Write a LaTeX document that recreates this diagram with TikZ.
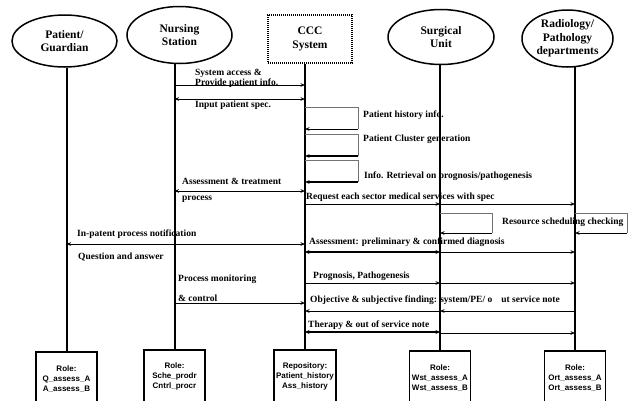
\documentclass[tikz,border=0pt]{standalone}
\usepackage{fontspec}
\setmainfont{Liberation Serif}
\newfontfamily\rolefont{Liberation Sans}
\usetikzlibrary{arrows.meta,shapes.geometric}
\begin{document}
\begin{tikzpicture}[x=1pt,y=-1pt,
  actor/.style={ellipse,draw,line width=1.5pt,inner sep=0pt,align=center,
    font=\fontsize{11.5}{13.5}\selectfont\bfseries},
  sysbox/.style={draw,line width=1.7pt,dash pattern=on 1.1pt off 0.9pt,inner sep=0pt,align=center,
    font=\fontsize{11.5}{13.5}\selectfont\bfseries},
  rolebox/.style={draw,line width=1.5pt,minimum width=61pt,minimum height=54pt,inner sep=0pt,
    anchor=north,align=center,font=\rolefont\fontsize{8}{10}\selectfont\bfseries},
  life/.style={line width=2pt},
  msg/.style={line width=0.9pt,-{Stealth[length=4.5pt,width=3.6pt]}},
  bimsg/.style={line width=0.9pt,{Stealth[length=4.5pt,width=3.6pt]}-{Stealth[length=4.5pt,width=3.6pt]}},
  thickmsg/.style={line width=1.8pt,{Stealth[length=4.5pt,width=4pt]}-{Stealth[length=4.5pt,width=4pt]}},
  loopedge/.style={line width=0.8pt,draw=black!55},
  lbl/.style={anchor=west,inner sep=0pt,font=\fontsize{9.5}{10}\selectfont\bfseries}
]
\useasboundingbox (0,0) rectangle (632,400);
\clip (0,0) rectangle (632,400);

% actors
\node[actor,minimum width=105pt,minimum height=52pt] (pat) at (64.5,41) {Patient/\\Guardian};
\node[actor,minimum width=105pt,minimum height=57pt] (nur) at (179.5,35) {Nursing\\Station};
\node[sysbox,minimum width=84pt,minimum height=48pt] (ccc) at (310,39) {CCC\\System};
\node[actor,minimum width=106pt,minimum height=55pt] (sur) at (441,37) {Surgical\\Unit};
\node[actor,minimum width=91pt,minimum height=57pt] (rad) at (567.5,38.5) {Radiology/\\Pathology\\departments};

% role / repository boxes
\node[rolebox] (pbox) at (66.5,351) {Role:\\Q\_assess\_A\\A\_assess\_B};
\node[rolebox] (nbox) at (174.5,349) {Role:\\Sche\_prodr\\Cntrl\_procr};
\node[rolebox,minimum width=62pt] (cbox) at (305,349) {Repository:\\Patient\_history\\Ass\_history};
\node[rolebox] (sbox) at (440,350) {Role:\\Wst\_assess\_A\\Wst\_assess\_B};
\node[rolebox] (rbox) at (575,350) {Role:\\Ort\_assess\_A\\Ort\_assess\_B};

% message labels
\node[lbl] (t1) at (195,73) {System access \&};
\node[lbl] (t2) at (195,83) {Provide patient info.};
\node[lbl] (t3) at (195,105) {Input patient spec.};
\node[lbl] (t4) at (363,115) {Patient history info.};
\node[lbl] (t5) at (363,139) {Patient Cluster generation};
\node[lbl] (t6) at (364,176) {Info. Retrieval on prognosis/pathogenesis};
\node[lbl] (t7) at (182,181) {Assessment \& treatment};
\node[lbl] (t8) at (182,199) {process};
\node[lbl] (t9) at (306,197) {Request each sector medical services with spec};
\node[lbl] (t10) at (502,222) {Resource scheduling checking};
\node[lbl] (t11) at (77,234) {In-patent process notification};
\node[lbl] (t12) at (309,242) {Assessment: preliminary \& confirmed diagnosis};
\node[lbl] (t13) at (78,257) {Question and answer};
\node[lbl] (t14) at (178,279) {Process monitoring};
\node[lbl] (t15) at (178,298) {\& control};
\node[lbl] (t16) at (313,276) {Prognosis, Pathogenesis};
\node[lbl] (t17) at (310,300) {Objective \& subjective finding: system/PE/ o\hspace{9pt}ut service note};
\node[lbl] (t18) at (308,325) {Therapy \& out of service note};

% lifelines
\draw[life] (pbox.north |- pat.south) -- (pbox.north);
\draw[life] (nbox.north |- nur.south) -- (nbox.north);
\draw[life] (cbox.north |- ccc.south) -- (cbox.north);
\draw[life] (sbox.north |- sur.south) -- (sbox.north);
\draw[life] (rbox.north |- 0,66) -- (rbox.north);

% messages
\draw[msg] (nbox |- 0,85) -- (cbox |- 0,85);
\draw[bimsg] (nbox |- 0,99) -- (cbox |- 0,99);

% self calls on the CCC system
\coordinate (c1a) at (358,107); \coordinate (c1b) at (358,129);
\coordinate (c2a) at (358,134); \coordinate (c2b) at (358,156);
\coordinate (c3a) at (358,160); \coordinate (c3b) at (358,182);
\draw[loopedge] (cbox |- c1a) -- (c1a) -- (c1b);
\draw[msg] (c1b) -- (cbox |- c1b);
\draw[loopedge] (cbox |- c2a) -- (c2a) -- (c2b);
\draw[msg,line width=1.4pt] (c2b) -- (cbox |- c2b);
\draw[loopedge] (cbox |- c3a) -- (c3a) -- (c3b);
\draw[msg,line width=1.2pt] (c3b) -- (cbox |- c3b);

\draw[bimsg] (nbox |- 0,191) -- (cbox |- 0,191);
\draw[msg] (cbox |- 0,204) -- (sbox |- 0,204);
\draw[msg] (sbox |- 0,204) -- (rbox |- 0,204);

% resource scheduling self calls
\coordinate (s1a) at (492,213); \coordinate (s1b) at (492,233);
\coordinate (r1a) at (627,213); \coordinate (r1b) at (627,233);
\draw[loopedge] (sbox |- s1a) -- (s1a) -- (s1b);
\draw[msg] (s1b) -- (sbox |- s1b);
\draw[loopedge] (rbox |- r1a) -- (r1a) -- (r1b);
\draw[msg] (r1b) -- (rbox |- r1b);

\draw[bimsg] (pbox |- 0,244) -- (cbox |- 0,244);
\draw[thickmsg] (cbox |- 0,252) -- (sbox |- 0,252);
\draw[msg] (sbox |- 0,252) -- (rbox |- 0,252);

\draw[msg] (cbox |- 0,283) -- (sbox |- 0,283);
\draw[msg] (sbox |- 0,283) -- (rbox |- 0,283);
\draw[msg] (nbox |- 0,303) -- (cbox |- 0,303);
\draw[msg] (rbox |- 0,311) -- (sbox |- 0,311);
\draw[msg] (sbox |- 0,311) -- (cbox |- 0,311);
\draw[thickmsg] (cbox |- 0,332) -- (sbox |- 0,332);
\draw[msg] (sbox |- 0,333) -- (rbox |- 0,333);
\end{tikzpicture}
\end{document}
